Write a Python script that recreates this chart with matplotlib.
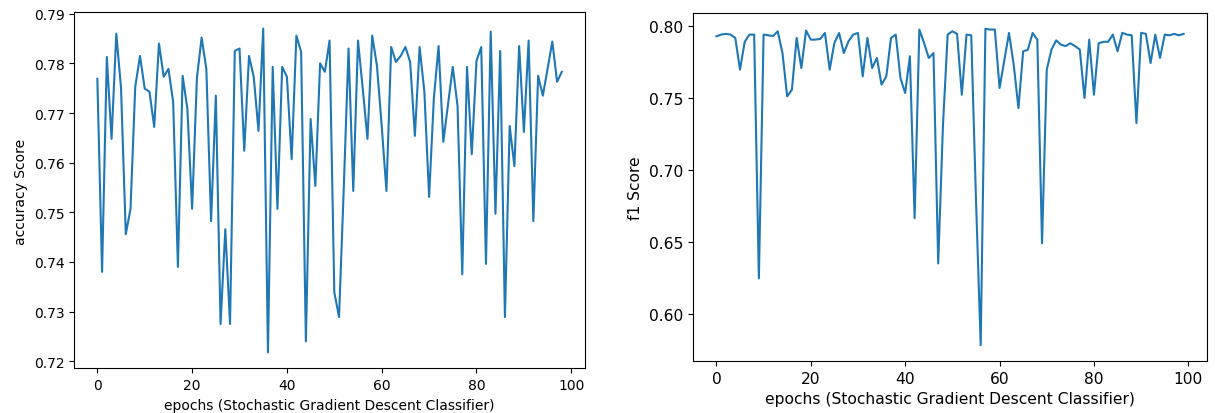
import matplotlib
matplotlib.use("Agg")
import matplotlib.pyplot as plt
import numpy as np

accuracy = [0.7769, 0.7380, 0.7813, 0.7648, 0.7860, 0.7750, 0.7456, 0.7507, 0.7753, 0.7815,
            0.7749, 0.7743, 0.7672, 0.7840, 0.7773, 0.7789, 0.7722, 0.7390, 0.7775, 0.7708,
            0.7507, 0.7769, 0.7852, 0.7789, 0.7482, 0.7735, 0.7275, 0.7466, 0.7275, 0.7825,
            0.7830, 0.7624, 0.7815, 0.7773, 0.7664, 0.7870, 0.7218, 0.7793, 0.7507, 0.7793,
            0.7773, 0.7607, 0.7856, 0.7823, 0.7240, 0.7688, 0.7553, 0.7800, 0.7783, 0.7846,
            0.7339, 0.7289, 0.7550, 0.7830, 0.7543, 0.7846, 0.7749, 0.7648, 0.7856, 0.7795,
            0.7674, 0.7543, 0.7833, 0.7803, 0.7815, 0.7833, 0.7803, 0.7654, 0.7833, 0.7743,
            0.7531, 0.7729, 0.7835, 0.7642, 0.7718, 0.7793, 0.7714, 0.7375, 0.7793, 0.7617,
            0.7805, 0.7833, 0.7396, 0.7864, 0.7497, 0.7825, 0.7289, 0.7674, 0.7593, 0.7835,
            0.7662, 0.7846, 0.7482, 0.7775, 0.7735, 0.7789, 0.7844, 0.7763, 0.7783]

f1 = [0.7928, 0.7940, 0.7945, 0.7940, 0.7917, 0.7697, 0.7890, 0.7940, 0.7940, 0.6250,
      0.7940, 0.7935, 0.7930, 0.7963, 0.7812, 0.7512, 0.7558, 0.7917, 0.7708, 0.7968,
      0.7905, 0.7905, 0.7910, 0.7951, 0.7697, 0.7882, 0.7951, 0.7812, 0.7894, 0.7940,
      0.7951, 0.7650, 0.7917, 0.7708, 0.7778, 0.7593, 0.7650, 0.7917, 0.7940, 0.7639,
      0.7535, 0.7790, 0.6667, 0.7975, 0.7882, 0.7778, 0.7812, 0.6354, 0.7306, 0.7940,
      0.7963, 0.7945, 0.7523, 0.7940, 0.7935, 0.6800, 0.5787, 0.7980, 0.7975, 0.7975,
      0.7570, 0.7760, 0.7951, 0.7731, 0.7430, 0.7824, 0.7835, 0.7951, 0.7905, 0.6493,
      0.7697, 0.7836, 0.7900, 0.7870, 0.7860, 0.7880, 0.7860, 0.7836, 0.7500, 0.7905,
      0.7523, 0.7880, 0.7890, 0.7890, 0.7940, 0.7824, 0.7952, 0.7940, 0.7935, 0.7326,
      0.7952, 0.7945, 0.7743, 0.7940, 0.7778, 0.7940, 0.7935, 0.7945, 0.7935, 0.7945]

xlabel = "epochs (Stochastic Gradient Descent Classifier)"

fig = plt.figure(figsize=(12.15, 4.14), dpi=100)
ax1 = fig.add_axes([0.0610, 0.1075, 0.4205, 0.860])
ax2 = fig.add_axes([0.5704, 0.1256, 0.4230, 0.8406])

ax1.plot(range(len(accuracy)), accuracy, color="#1f77b4", linewidth=1.5)
ax1.set_xlabel(xlabel, fontsize=10)
ax1.set_ylabel("accuracy Score", fontsize=10)
ax1.tick_params(labelsize=10)

ax2.plot(range(len(f1)), f1, color="#1f77b4", linewidth=1.5)
ax2.set_xlabel(xlabel, fontsize=11.2)
ax2.set_ylabel("f1 Score", fontsize=11.2)
ax2.tick_params(labelsize=11.2)

fig.savefig("out.png", dpi=100)
